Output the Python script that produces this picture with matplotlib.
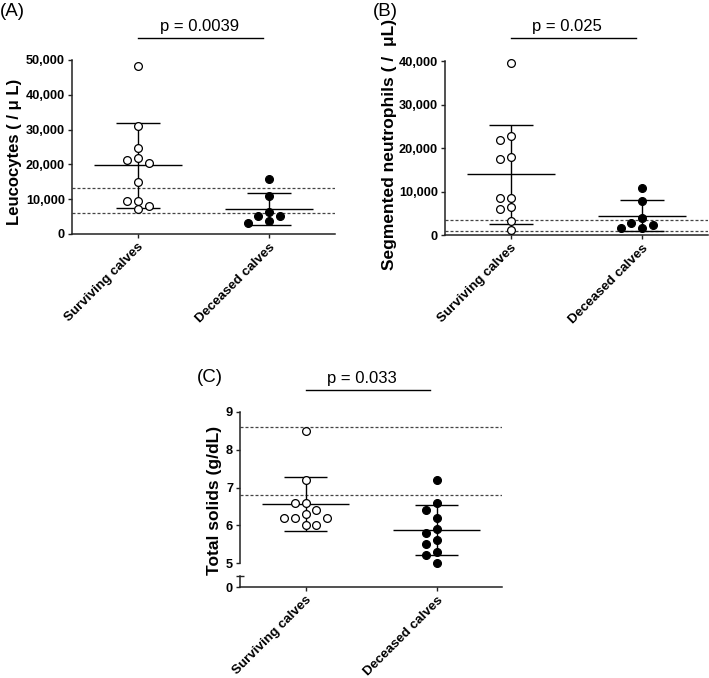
import numpy as np
import matplotlib
matplotlib.use("Agg")
import matplotlib.pyplot as plt
from matplotlib.ticker import FuncFormatter

plt.rcParams['font.family'] = ['Liberation Sans', 'DejaVu Sans']

# data
groups = ["Surviving calves", "Deceased calves"]

leuco_surv = [48300, 31000, 24600, 21900, 21300, 20500, 15000, 9600, 9600, 8100, 7100]
leuco_dec = [15800, 11000, 6400, 5200, 5200, 3600, 3100]
leuco_ref = [6000, 13300]
leuco_p = "p = 0.0039"

neut_surv = [39500, 22800, 21800, 17900, 17400, 8500, 8400, 6400, 6000, 3300, 1100]
neut_dec = [10900, 7900, 4000, 2400, 2800, 1500, 1500]
neut_ref = [950, 3400]
neut_p = "p = 0.025"

ts_surv = [8.5, 7.2, 6.6, 6.6, 6.4, 6.3, 6.2, 6.2, 6.2, 6.0, 6.0]
ts_dec = [7.2, 6.6, 6.4, 6.2, 5.9, 5.8, 5.6, 5.5, 5.3, 5.2, 5.0]
ts_ref = [6.8, 8.6]
ts_p = "p = 0.033"

W, H = 709, 678
fig = plt.figure(figsize=(W / 100, H / 100), dpi=100)


def px_axes(left, top, right, bottom):
    return fig.add_axes([left / W, 1 - bottom / H, (right - left) / W, (bottom - top) / H])


def swarm(ax, vals, x0, step_px=10.8, diam_px=8.0):
    # simple beeswarm: spread points that would overlap
    ys = ax.transData.transform([(x0, v) for v in vals])[:, 1]
    ppu = ax.transData.transform((1, 0))[0] - ax.transData.transform((0, 0))[0]
    order = np.argsort(-np.array(vals), kind="stable")
    placed = []
    offs = np.zeros(len(vals))
    for i in order:
        y = ys[i]
        for k in [0, -1, 1, -2, 2, -3, 3]:
            x = k * step_px
            if all((x - a) ** 2 + (y - b) ** 2 >= diam_px ** 2 for a, b in placed):
                break
        placed.append((x, y))
        offs[i] = x / ppu
    return x0 + offs


def style_axis(ax):
    for s in ['top', 'right']:
        ax.spines[s].set_visible(False)
    for s in ['left', 'bottom']:
        ax.spines[s].set_linewidth(1.1)
        ax.spines[s].set_color('#222222')
    ax.tick_params(axis='both', length=3, width=1, color='#222222', pad=2)
    for lab in ax.get_yticklabels():
        lab.set_fontweight('bold')
        lab.set_fontsize(9.2)


def draw_group(ax, vals, x0, filled):
    vals = np.array(vals, dtype=float)
    m = vals.mean()
    sd = vals.std(ddof=1)
    ax.hlines(m, x0 - 0.333, x0 + 0.333, color='black', lw=1, zorder=2)
    ax.vlines(x0, m - sd, m + sd, color='black', lw=1, zorder=2)
    ax.hlines([m - sd, m + sd], x0 - 0.167, x0 + 0.167, color='black', lw=1, zorder=2)
    xs = swarm(ax, vals, x0)
    ax.plot(xs, vals, 'o', ms=5.6, mew=0.9, mec='black',
            mfc='black' if filled else 'white', zorder=3, clip_on=False)


def pval(ax, text, y_line, y_text, x_text):
    tr = ax.get_xaxis_transform()
    ax.plot([0, 0.95], [y_line, y_line], color='black', lw=1, transform=tr, clip_on=False)
    ax.text(x_text, y_text, text, transform=tr, ha='center', va='bottom', fontsize=12)


def xcats(ax):
    ax.set_xlim(-0.5, 1.5)
    ax.set_xticks([0, 1])
    ax.set_xticklabels(groups, rotation=45, ha='right', va='top', rotation_mode='anchor',
                       fontweight='bold', fontsize=9.6)


def refs(ax, vals):
    for v in vals:
        ax.axhline(v, color='#444444', lw=0.9, ls=(0, (2.4, 1.6)), zorder=1)


comma = FuncFormatter(lambda v, p: f"{int(v):,}")

# (A) leucocytes
axA = px_axes(72, 60, 335, 234)
axA.set_ylim(0, 50000)
axA.set_yticks(np.arange(0, 50001, 10000))
axA.yaxis.set_major_formatter(comma)
xcats(axA)
style_axis(axA)
refs(axA, leuco_ref)
draw_group(axA, leuco_surv, 0, False)
draw_group(axA, leuco_dec, 1, True)
axA.set_ylabel("Leucocytes ( / μ L)", fontsize=12, fontweight='bold')
axA.yaxis.set_label_coords(-0.19, 0.47)
pval(axA, leuco_p, 1.126, 1.15, 0.47)

# (B) segmented neutrophils
axB = px_axes(445, 61, 708, 235)
axB.set_ylim(0, 40000)
axB.set_yticks(np.arange(0, 40001, 10000))
axB.yaxis.set_major_formatter(comma)
xcats(axB)
style_axis(axB)
refs(axB, neut_ref)
draw_group(axB, neut_surv, 0, False)
draw_group(axB, neut_dec, 1, True)
axB.set_ylabel("Segmented neutrophils ( /  μL)", fontsize=12.5, fontweight='bold')
axB.yaxis.set_label_coords(-0.183, 0.52)
pval(axB, neut_p, 1.132, 1.155, 0.43)

# (C) total solids, broken axis 0 | 5-9
axC = px_axes(240, 412, 502, 563)
axC0 = px_axes(240, 576, 502, 587)
axC.set_ylim(5, 9)
axC.set_yticks([5, 6, 7, 8, 9])
axC.set_xlim(-0.5, 1.5)
axC.set_xticks([])
style_axis(axC)
axC.spines['bottom'].set_visible(False)
axC.set_yticks([5], minor=True)
axC.tick_params(axis='y', which='minor', direction='inout', length=6, width=1, color='#222222')
refs(axC, ts_ref)
draw_group(axC, ts_surv, 0, False)
draw_group(axC, ts_dec, 1, True)
axC.set_ylabel("Total solids (g/dL)", fontsize=12.5, fontweight='bold')
axC.yaxis.set_label_coords(-0.069, 0.417)
pval(axC, ts_p, 1.146, 1.17, 0.43)

axC0.set_ylim(0, 1)
axC0.set_yticks([0])
axC0.set_yticks([1], minor=True)
xcats(axC0)
style_axis(axC0)
axC0.tick_params(axis='y', which='minor', direction='inout', length=6, width=1, color='#222222')
axC0.patch.set_alpha(0)

# panel letters
fig.text(0 / W, 1 - 12 / H, "(A)", fontsize=13.5, va='center', ha='left')
fig.text(373 / W, 1 - 11 / H, "(B)", fontsize=13.5, va='center', ha='left')
fig.text(197 / W, 1 - 378 / H, "(C)", fontsize=13.5, va='center', ha='left')

fig.savefig("out.png", dpi=100)
